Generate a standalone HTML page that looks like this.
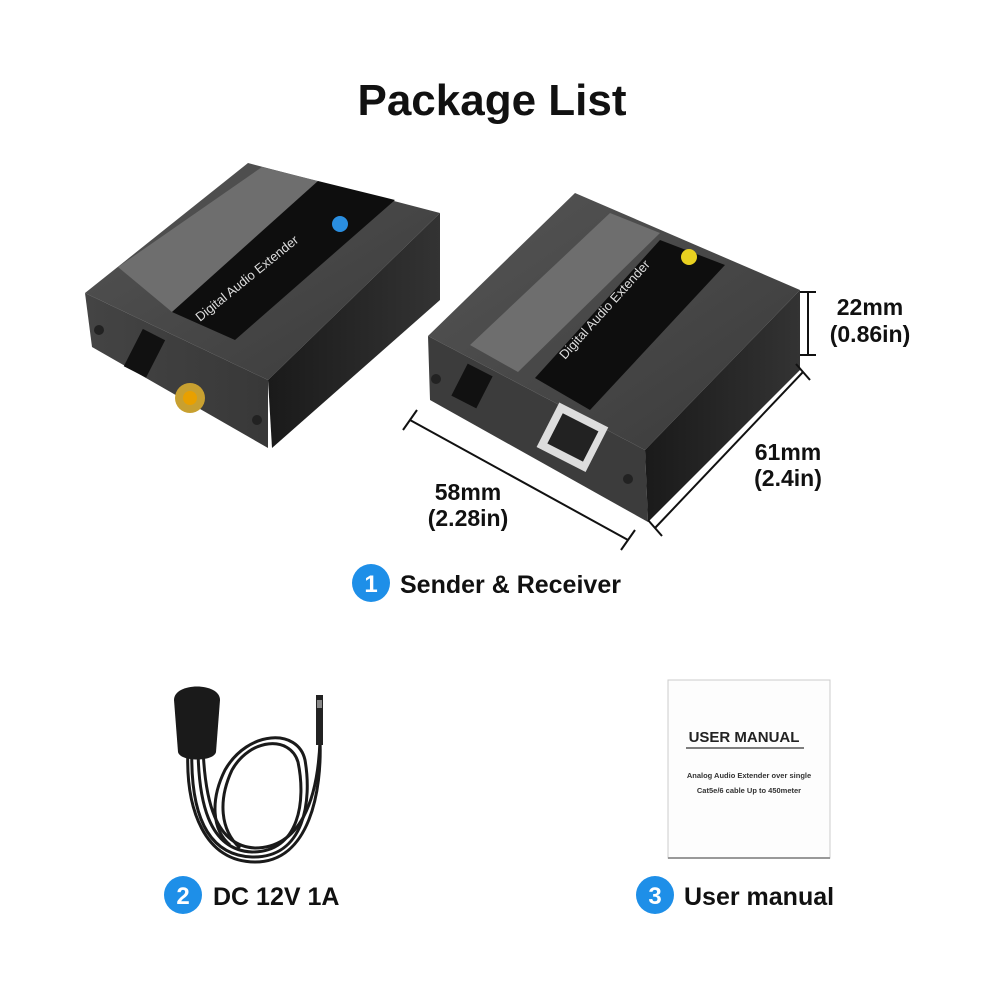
<!DOCTYPE html>
<html><head><meta charset="utf-8"><style>
html,body{margin:0;padding:0;background:#fff;width:1000px;height:1000px;overflow:hidden}
svg{display:block}
text{font-family:"Liberation Sans",Arial,sans-serif}
</style></head><body>
<svg width="1000" height="1000" viewBox="0 0 1000 1000">
<defs>
<linearGradient id="top" x1="0" y1="0" x2="1" y2="1"><stop offset="0" stop-color="#555"/><stop offset="1" stop-color="#3a3a3a"/></linearGradient>
<linearGradient id="side" x1="0" y1="0" x2="1" y2="0"><stop offset="0" stop-color="#1a1a1a"/><stop offset="1" stop-color="#333"/></linearGradient>
<linearGradient id="front" x1="0" y1="0" x2="1" y2="0"><stop offset="0" stop-color="#444"/><stop offset="1" stop-color="#383838"/></linearGradient>
</defs>
<text x="492" y="115" text-anchor="middle" font-size="44" font-weight="bold" fill="#111">Package List</text>

<!-- TX device -->
<polygon points="85,293 248,163 440,213 268,380" fill="url(#top)"/>
<polygon points="118,267 262,167 318,181 172,312" fill="#6e6e6e"/>
<polygon points="172,312 318,181 395,200 235,340" fill="#0e0e0e"/>
<text transform="translate(200,322) rotate(-39)" font-size="13" fill="#ddd">Digital Audio Extender</text>
<circle cx="340" cy="224" r="8" fill="#2a8ee0"/>
<polygon points="85,293 268,380 268,448 92,347" fill="url(#front)"/>
<polygon points="268,380 440,213 440,300 272,448" fill="url(#side)"/>
<rect x="132" y="332" width="25" height="42" fill="#111" transform="rotate(27 144 353)"/>
<circle cx="190" cy="398" r="15" fill="#c8a030"/><circle cx="190" cy="398" r="7" fill="#e8a000"/>
<circle cx="99" cy="330" r="5" fill="#222"/><circle cx="257" cy="420" r="5" fill="#222"/>

<!-- RX device -->
<polygon points="428,336 575,193 800,290 645,450" fill="url(#top)"/>
<polygon points="470,345 610,213 660,233 518,372" fill="#6e6e6e"/>
<polygon points="535,378 660,240 725,265 590,410" fill="#0e0e0e"/>
<text transform="translate(565,360) rotate(-48)" font-size="13" fill="#ddd">Digital Audio Extender</text>
<circle cx="689" cy="257" r="8" fill="#e8d020"/>
<polygon points="428,336 645,450 648,522 430,400" fill="#3c3c3c"/>
<polygon points="645,450 800,290 800,370 648,522" fill="url(#side)"/>
<rect x="458" y="368" width="28" height="36" fill="#111" transform="rotate(27 472 386)"/>
<rect x="545" y="412" width="55" height="50" fill="#ddd" transform="rotate(27 572 437)"/>
<rect x="553" y="420" width="40" height="34" fill="#222" transform="rotate(27 572 437)"/>
<circle cx="436" cy="379" r="5" fill="#222"/><circle cx="628" cy="479" r="5" fill="#222"/>

<!-- dimensions -->
<g stroke="#111" stroke-width="2">
<line x1="410" y1="420" x2="628" y2="540"/><line x1="403" y1="430" x2="417" y2="410"/><line x1="621" y1="550" x2="635" y2="530"/>
<line x1="655" y1="528" x2="803" y2="372"/><line x1="648" y1="520" x2="662" y2="536"/><line x1="796" y1="364" x2="810" y2="380"/>
<line x1="808" y1="292" x2="808" y2="355"/><line x1="800" y1="292" x2="816" y2="292"/><line x1="800" y1="355" x2="816" y2="355"/>
</g>
<g font-weight="bold" fill="#111" font-size="23" text-anchor="middle">
<text x="468" y="500">58mm</text><text x="468" y="526">(2.28in)</text>
<text x="788" y="460">61mm</text><text x="788" y="486">(2.4in)</text>
<text x="870" y="315">22mm</text><text x="870" y="342">(0.86in)</text>
</g>

<circle cx="371" cy="583" r="19" fill="#1e8fe8"/><text x="371" y="592" text-anchor="middle" font-size="24" font-weight="bold" fill="#fff">1</text>
<text x="400" y="593" font-size="25" font-weight="bold" fill="#111">Sender &amp; Receiver</text>

<!-- adapter -->
<g fill="none" stroke="#1a1a1a" stroke-width="3">
<path d="M192,745 C190,800 200,855 252,857 C305,858 312,800 305,760 C298,728 248,730 225,770 C210,800 212,830 230,845"/>
<path d="M198,745 C198,800 208,850 252,852 C300,852 306,800 298,762 C290,735 250,738 232,770 C218,800 220,830 240,848"/>
<path d="M203,748 C205,800 215,846 255,848 C300,848 318,800 320,740"/>
<path d="M188,748 C185,810 205,862 255,862 C310,862 322,790 320,740"/>
</g>
<path d="M174,700 C174,682 220,682 220,700 L216,752 C214,762 180,762 178,752 Z" fill="#1a1a1a"/>
<rect x="316" y="695" width="7" height="50" fill="#222"/><rect x="317" y="700" width="5" height="8" fill="#888"/>
<circle cx="183" cy="895" r="19" fill="#1e8fe8"/><text x="183" y="904" text-anchor="middle" font-size="24" font-weight="bold" fill="#fff">2</text>
<text x="213" y="905" font-size="25" font-weight="bold" fill="#111">DC 12V 1A</text>

<!-- manual -->
<rect x="668" y="680" width="162" height="178" fill="#fdfdfd" stroke="#ccc" stroke-width="1"/>
<line x1="668" y1="858" x2="830" y2="858" stroke="#999" stroke-width="2"/>
<text x="744" y="742" text-anchor="middle" font-size="15" font-weight="bold" fill="#222">USER MANUAL</text>
<line x1="686" y1="748" x2="804" y2="748" stroke="#555" stroke-width="1.5"/>
<text x="749" y="778" text-anchor="middle" font-size="7.5" font-weight="bold" fill="#333">Analog Audio Extender over single</text>
<text x="749" y="793" text-anchor="middle" font-size="7.5" font-weight="bold" fill="#333">Cat5e/6 cable Up to 450meter</text>
<circle cx="655" cy="895" r="19" fill="#1e8fe8"/><text x="655" y="904" text-anchor="middle" font-size="24" font-weight="bold" fill="#fff">3</text>
<text x="684" y="905" font-size="25" font-weight="bold" fill="#111">User manual</text>
</svg>
</body></html>
